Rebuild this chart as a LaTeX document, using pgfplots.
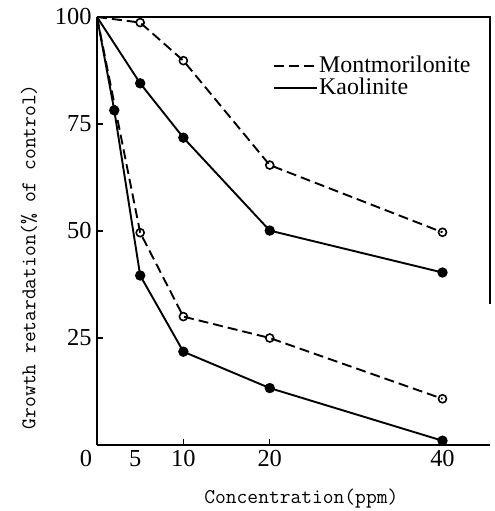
\documentclass[border=0pt]{standalone}
\usepackage{fontspec}
\setmainfont{Liberation Serif}
\usepackage{pgfplots}
\pgfplotsset{compat=1.18}

\begin{document}
\begin{tikzpicture}
\path[use as bounding box] (-97bp,-66bp) rectangle (398bp,445bp);
\begin{axis}[
    scale only axis,
    width=393bp, height=428bp,
    xmin=0, xmax=45.5, ymin=0, ymax=100,
    clip=false,
    axis x line=bottom, axis y line=left,
    axis line style={-, line width=1.3bp},
    tick align=inside, major tick length=6bp,
    tick style={line width=1.2bp, black},
    xtick={10,20},
    extra x ticks={0,5,40},
    extra x tick labels={\llap{0\hspace{5bp}}, \hspace{-10bp}5, 40},
    extra x tick style={major tick length=0pt},
    ytick={25,50,75,100},
    ticklabel style={font=\fontsize{24.5}{26}\selectfont},
    xticklabel style={yshift=-2bp},
    yticklabel style={xshift=-2bp},
    /pgf/number format/assume math mode=true,
    xlabel={Concentration(ppm)},
    ylabel={Growth retardation(\% of control)},
    label style={font=\ttfamily\fontsize{21}{22}\selectfont},
    xlabel style={at={(rel axis cs:0.52,-0.124)}, anchor=center},
    ylabel style={at={(rel axis cs:-0.173,0.44)}, anchor=center},
    legend style={at={(rel axis cs:0.448,0.911)}, anchor=north west,
        draw=none, fill=none, inner sep=0pt, row sep=0pt,
        font=\fontsize{24}{26}\selectfont,
        nodes={inner sep=1bp, text height=16bp, text depth=4bp}},
    legend cell align=left,
    legend image code/.code={\draw[#1, mark=none] (0bp,0bp) -- (43bp,0bp);},
    every axis plot/.append style={black, line width=1.9bp},
    mono/.style={dash pattern=on 10bp off 5bp, mark=o, mark size=4bp,
        mark options={solid, fill=white, line width=1.6bp}},
    kao/.style={solid, mark=*, mark size=4.2bp, mark options={solid}},
]
% Montmorillonite, upper series
\addplot[mono, mark indices={2,3,4,5}] coordinates {(0,100) (5,98.7) (10,89.8) (20,65.4) (40,49.7)};
\addlegendentry{Montmorilonite}
% Kaolinite, upper series
\addplot[kao, mark indices={2,3,4,5}] coordinates {(0,100) (5,84.5) (10,71.8) (20,50.1) (40,40.3)};
\addlegendentry{Kaolinite}
% lower series
\addplot[mono, mark indices={2,3,4,5}, forget plot] coordinates {(0,100) (5,49.6) (10,30.0) (20,25.0) (40,10.8)};
\addplot[kao, mark indices={2,3,4,5,6}, forget plot] coordinates {(0,100) (2,78.2) (5,39.6) (10,21.8) (20,13.3) (40,1.0)};
% top edge and the short right edge of the frame
\draw[line width=1.3bp] (rel axis cs:0,1) -- (rel axis cs:1,1) -- (rel axis cs:1,0.33);
\end{axis}
\end{tikzpicture}
\end{document}
